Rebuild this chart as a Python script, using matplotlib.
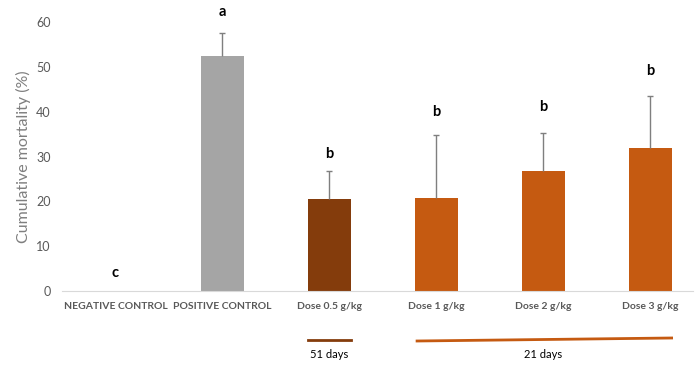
import matplotlib
matplotlib.use("Agg")
import matplotlib.pyplot as plt
import matplotlib.transforms as mtransforms
import numpy as np

categories = ['NEGATIVE CONTROL', 'POSITIVE CONTROL', 'Dose 0.5 g/kg',
              'Dose 1 g/kg', 'Dose 2 g/kg', 'Dose 3 g/kg']
mortality = [0, 52.4, 20.5, 20.7, 26.7, 31.9]
errors = [0, 5.1, 6.3, 14.1, 8.5, 11.5]
letters = ['c', 'a', 'b', 'b', 'b', 'b']
letter_y = [4.0, 62.2, 30.6, 39.9, 41.0, 49.1]
bar_colors = ['#A5A5A5', '#A5A5A5', '#843C0C', '#C55A11', '#C55A11', '#C55A11']
periods = ['51 days', '21 days']

plt.rcParams['font.family'] = ['Lato', 'DejaVu Sans']

fig = plt.figure(figsize=(6.97, 3.65), dpi=100)
ax = fig.add_axes([62/697, 74/365, 631/697, 269/365])

x = np.arange(len(categories))
ax.bar(x, mortality, width=0.4, color=bar_colors, zorder=2)

# upper-only error bars, cap at top only
mort = np.array(mortality)
err = np.array(errors)
sel = err > 0
ax.vlines(x[sel], mort[sel], mort[sel] + err[sel], color='#7F7F7F', lw=1, zorder=3)
ax.plot(x[sel], mort[sel] + err[sel], ls='none', marker='_', ms=5, mew=1,
        color='#7F7F7F', zorder=3)

for xi, lt, ly in zip(x, letters, letter_y):
    ax.text(xi, ly, lt, ha='center', va='center', fontsize=10.5,
            fontweight='bold', color='black', clip_on=False)

ax.set_xlim(-0.5, 5.4)
ax.set_ylim(0, 60)
ax.set_yticks(range(0, 61, 10))
ax.set_xticks(x)
ax.set_xticklabels(categories, fontsize=7.5, fontweight='bold', color='#595959')
ax.tick_params(axis='y', length=0, labelsize=9, labelcolor='#595959', pad=8)
ax.tick_params(axis='x', length=0, pad=8)
ax.set_ylabel('Cumulative mortality (%)', fontsize=11.5, color='#7F7F7F', labelpad=4)

for s in ['top', 'right', 'left']:
    ax.spines[s].set_visible(False)
ax.spines['bottom'].set_color('#D9D9D9')

# treatment period markers below the axis
trans = mtransforms.blended_transform_factory(ax.transData, fig.transFigure)
ax.plot([1.80, 2.20], [1 - 340/365, 1 - 340/365], color='#843C0C', lw=2,
        transform=trans, clip_on=False)
ax.plot([2.82, 5.20], [1 - 341/365, 1 - 338/365], color='#C55A11', lw=2,
        transform=trans, clip_on=False)
ax.text(2.0, 1 - 355/365, periods[0], transform=trans, ha='center', va='center',
        fontsize=8, color='black')
ax.text(4.0, 1 - 355/365, periods[1], transform=trans, ha='center', va='center',
        fontsize=8, color='black')

fig.savefig('out.png', dpi=100)
